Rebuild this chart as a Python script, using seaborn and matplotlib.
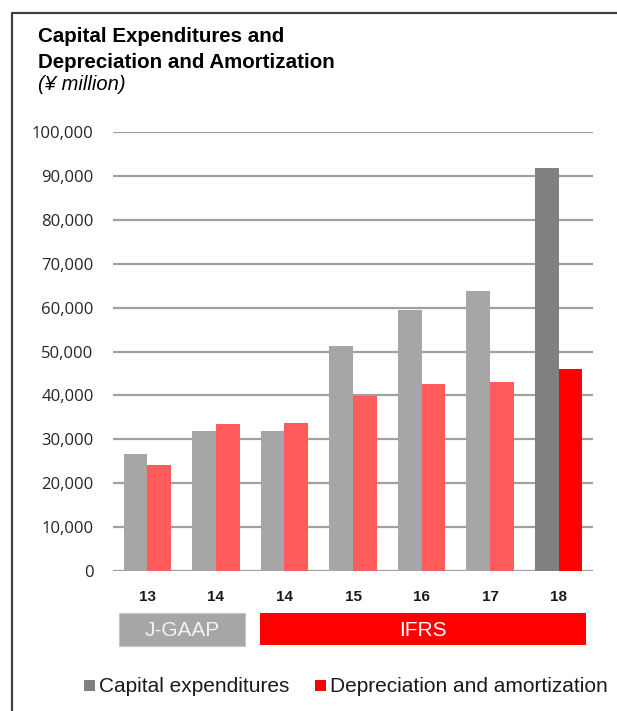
import matplotlib
matplotlib.use("Agg")
import matplotlib.pyplot as plt
from matplotlib.patches import Rectangle
from matplotlib.lines import Line2D
import seaborn as sns
import pandas as pd

# Fiscal-year categories (J-GAAP 13-14, IFRS 14-18)
keys = ["J13", "J14", "I14", "I15", "I16", "I17", "I18"]
year_labels = ["13", "14", "14", "15", "16", "17", "18"]
capex = [26600, 31800, 31800, 51300, 59500, 63700, 91700]
dep_amort = [24100, 33400, 33700, 39800, 42700, 43000, 46000]
series_names = ["Capital expenditures", "Depreciation and amortization"]
y_ticks = list(range(0, 100001, 10000))

df = pd.DataFrame({
    "period": keys * 2,
    "series": [series_names[0]] * len(keys) + [series_names[1]] * len(keys),
    "value": capex + dep_amort,
})

sns.set_theme(style="white")
plt.rcParams["font.family"] = ["Liberation Sans", "DejaVu Sans"]

fig = plt.figure(figsize=(6.17, 7.11), dpi=100)
W, H = 617, 711
ax = fig.add_axes([113 / W, 1 - 571 / H, 480 / W, 439 / H])

light_gray = "#A6A6A6"
light_red = "#FF5B5B"
sns.barplot(data=df, x="period", y="value", hue="series", order=keys,
            hue_order=series_names, palette=[light_gray, light_red],
            width=0.69, linewidth=0, saturation=1, ax=ax, legend=False)

# Highlight the latest year in stronger colours
ax.containers[0][-1].set_facecolor("#808080")
ax.containers[1][-1].set_facecolor("#FF0000")

ax.set_xlim(-0.5, len(keys) - 0.5)
ax.set_ylim(0, 100000)
ax.set_yticks(y_ticks)
ax.set_yticklabels([f"{v:,}" for v in y_ticks], fontsize=12,
                   color="#262626", family=["Open Sans", "DejaVu Sans"])
ax.set_xticks(range(len(keys)))
ax.set_xticklabels(year_labels, fontsize=11, fontweight="bold", color="#1a1a1a")
ax.tick_params(axis="y", length=0, pad=14)
ax.tick_params(axis="x", length=0, pad=14)
ax.set_xlabel("")
ax.set_ylabel("")
ax.yaxis.grid(True, color="#A0A0A0", linewidth=1.6)
ax.set_axisbelow(True)
for s in ax.spines.values():
    s.set_visible(False)

# Outer frame (top and left edges)
fig.add_artist(Line2D([12 / W, 12 / W, 1.0], [0.0, 1 - 13 / H, 1 - 13 / H],
                      color="#404040", linewidth=1.6, transform=fig.transFigure))

# Title
fig.text(38 / W, 1 - 37 / H, "Capital Expenditures and", fontsize=14.8,
         fontweight="bold", va="center", ha="left", color="#000000")
fig.text(38 / W, 1 - 62 / H, "Depreciation and Amortization", fontsize=14.8,
         fontweight="bold", va="center", ha="left", color="#000000")
fig.text(38 / W, 1 - 85 / H, "(¥ million)", fontsize=14.5, style="italic",
         va="center", ha="left", color="#000000")

# Accounting standard bands
fig.add_artist(Rectangle((119 / W, 1 - 646 / H), 126 / W, 33 / H,
                         facecolor="#A6A6A6", edgecolor="#C8C8C8", linewidth=0.8,
                         transform=fig.transFigure))
fig.text(182 / W, 1 - 630 / H, "J-GAAP", fontsize=15, color="#F2F2F2",
         ha="center", va="center")
fig.add_artist(Rectangle((260 / W, 1 - 645 / H), 326 / W, 32 / H,
                         facecolor="#FF0000", edgecolor="none",
                         transform=fig.transFigure))
fig.text(423 / W, 1 - 630 / H, "IFRS", fontsize=15, color="#FFFFFF",
         ha="center", va="center")

# Legend
fig.add_artist(Rectangle((84 / W, 1 - 691 / H), 11 / W, 11 / H,
                         facecolor="#808080", edgecolor="none",
                         transform=fig.transFigure))
fig.text(99 / W, 1 - 686 / H, series_names[0], fontsize=15, color="#1a1a1a",
         ha="left", va="center")
fig.add_artist(Rectangle((315 / W, 1 - 691 / H), 11 / W, 11 / H,
                         facecolor="#FF0000", edgecolor="none",
                         transform=fig.transFigure))
fig.text(330 / W, 1 - 686 / H, series_names[1], fontsize=15, color="#1a1a1a",
         ha="left", va="center")

fig.savefig("out.png", dpi=100)
